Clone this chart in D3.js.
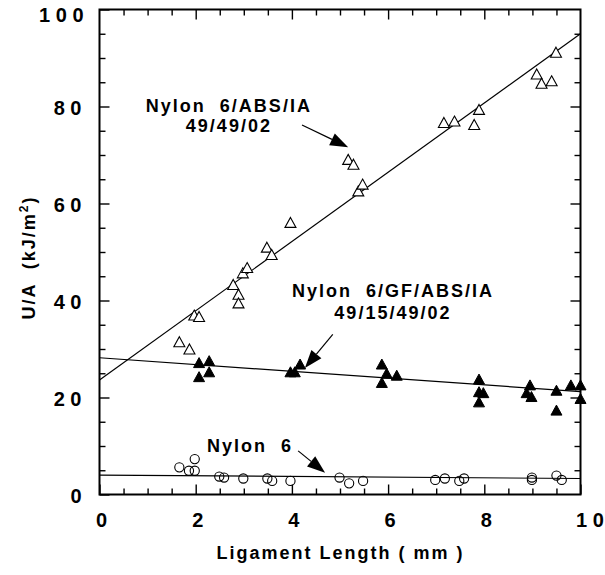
<!DOCTYPE html>
<html>
<head>
<meta charset="utf-8">
<script src="https://cdn.jsdelivr.net/npm/d3@7"></script>
<style>
  body { margin: 0; background: #fff; }
  text { font-family: "Liberation Sans", Arial, Helvetica, sans-serif; font-weight: bold; fill: #000; white-space: pre; }
</style>
</head>
<body>
<svg id="chart" width="605" height="575"></svg>
<script>
// Nylon 6/ABS/IA 49/49/02 (open triangles)
const absX = [1.66, 1.87, 1.97, 2.07, 2.78, 2.89, 2.89, 2.98, 3.07, 3.48, 3.58, 3.97, 5.17, 5.28, 5.38, 5.47, 7.16, 7.38, 7.79, 7.89, 9.09, 9.19, 9.40, 9.49];
const absY = [31.5, 30.0, 37.0, 36.7, 43.3, 41.3, 39.5, 45.7, 46.8, 51.0, 49.5, 56.1, 69.1, 68.1, 62.6, 64.0, 76.7, 77.0, 76.3, 79.4, 86.7, 84.8, 85.3, 91.2];

// Nylon 6/GF/ABS/IA 49/15/49/02 (filled triangles)
const gfX = [2.07, 2.28, 2.07, 2.28, 3.97, 4.06, 4.17, 5.87, 5.97, 5.87, 6.18, 7.89, 7.89, 7.98, 7.89, 8.95, 8.88, 8.98, 9.50, 9.50, 9.80, 10.0, 10.0];
const gfY = [27.2, 27.6, 24.3, 25.3, 25.3, 25.3, 26.9, 26.9, 25.0, 23.1, 24.6, 23.8, 21.2, 21.0, 19.1, 22.6, 21.0, 20.2, 21.5, 17.4, 22.6, 22.6, 19.8];

// Nylon 6 (open circles)
const ny6X = [1.66, 1.86, 1.98, 1.98, 2.49, 2.59, 2.99, 3.49, 3.59, 3.97, 4.99, 5.19, 5.48, 6.98, 7.18, 7.48, 7.58, 8.99, 8.99, 9.50, 9.61];
const ny6Y = [5.6, 4.9, 7.3, 4.9, 3.7, 3.5, 3.3, 3.3, 2.8, 2.8, 3.5, 2.3, 2.8, 3.0, 3.3, 2.8, 3.3, 3.5, 3.0, 3.9, 3.0];

// Linear fits, evaluated at both ends of the ligament range
const fitX = [0, 10];
const absFit = [23.6, 95.0];
const gfFit = [28.2, 21.2];
const ny6Fit = [4.0, 3.3];

// Axis ticks
const xMajor = [0, 2, 4, 6, 8, 10];
const xMinor = d3.range(0, 10.001, 0.5).filter(v => v % 2 !== 0);
const yMajor = [0, 20, 40, 60, 80, 100];
const yMinor = d3.range(0, 100.001, 5).filter(v => v % 20 !== 0);

// Series labels with their arrows (data units)
const labelLines = [
  { x: 2.69, y: 78.9, text: "Nylon  6/ABS/IA" },
  { x: 2.69, y: 74.8, text: "49/49/02" },
  { x: 6.10, y: 40.8, text: "Nylon  6/GF/ABS/IA" },
  { x: 6.10, y: 36.1, text: "49/15/49/02" },
  { x: 3.13, y: 8.7,  text: "Nylon  6" }
];
const arrows = [
  { x1: 4.21, y1: 76.2, x2: 5.17, y2: 71.6 },
  { x1: 4.85, y1: 33.0, x2: 4.27, y2: 26.1 },
  { x1: 4.13, y1: 9.0,  x2: 4.69, y2: 4.5 }
];

const svg = d3.select("#chart");
const x = d3.scaleLinear().domain([0, 10]).range([99.5, 580.5]);
const y = d3.scaleLinear().domain([0, 100]).range([494.5, 9.5]);

// ---- axes (ticks point inward on all four sides) ----
function styleAxis(g) {
  g.select(".domain").remove();
  g.selectAll(".tick line").attr("stroke", "#000").attr("stroke-width", 1.4);
}
// digits are set apart, e.g. "8 0"
const spaced = d => String(d).split("").join(" ");

svg.append("g").attr("transform", `translate(0,${y(0)})`)
  .call(d3.axisBottom(x).tickValues(xMinor).tickSize(-6).tickFormat(""))
  .call(styleAxis);
const xAx = svg.append("g").attr("transform", `translate(0,${y(0)})`)
  .call(d3.axisBottom(x).tickValues(xMajor).tickSize(-10).tickPadding(18).tickFormat(spaced))
  .call(styleAxis);
xAx.selectAll(".tick text")
  .attr("font-size", 20)
  .attr("font-family", null)
  .attr("dx", d => d === 10 ? 9 : 1.5);

svg.append("g").attr("transform", `translate(0,${y(100)})`)
  .call(d3.axisTop(x).tickValues(xMinor).tickSize(-6).tickFormat(""))
  .call(styleAxis);
svg.append("g").attr("transform", `translate(0,${y(100)})`)
  .call(d3.axisTop(x).tickValues(xMajor.slice(1, -1)).tickSize(-10).tickFormat(""))
  .call(styleAxis);

svg.append("g").attr("transform", `translate(${x(0)},0)`)
  .call(d3.axisLeft(y).tickValues(yMinor).tickSize(-6).tickFormat(""))
  .call(styleAxis);
const yAx = svg.append("g").attr("transform", `translate(${x(0)},0)`)
  .call(d3.axisLeft(y).tickValues(yMajor).tickSize(-10).tickPadding(18).tickFormat(spaced))
  .call(styleAxis);
yAx.selectAll(".tick text")
  .attr("font-size", 20)
  .attr("font-family", null)
  .attr("dx", d => d === 100 ? 2 : 0)
  .attr("dy", d => d === 100 ? "0.62em" : "0.4em");

svg.append("g").attr("transform", `translate(${x(10)},0)`)
  .call(d3.axisRight(y).tickValues(yMinor).tickSize(-6).tickFormat(""))
  .call(styleAxis);
svg.append("g").attr("transform", `translate(${x(10)},0)`)
  .call(d3.axisRight(y).tickValues(yMajor.slice(1, -1)).tickSize(-10).tickFormat(""))
  .call(styleAxis);

// plot frame
svg.append("rect")
  .attr("x", x(0)).attr("y", y(100))
  .attr("width", x(10) - x(0)).attr("height", y(0) - y(100))
  .attr("fill", "none").attr("stroke", "#000").attr("stroke-width", 2);

// ---- fit lines ----
const line = d3.line().x(d => x(d[0])).y(d => y(d[1]));
[absFit, gfFit, ny6Fit].forEach(f => {
  svg.append("path")
    .datum(fitX.map((v, i) => [v, f[i]]))
    .attr("d", line)
    .attr("fill", "none").attr("stroke", "#000").attr("stroke-width", 1.2);
});

// ---- markers ----
const tri = (w, h) => `M0,${-h / 2}L${w / 2},${h / 2}L${-w / 2},${h / 2}Z`;

svg.append("g").selectAll("path")
  .data(absX.map((v, i) => [v, absY[i]]))
  .join("path")
  .attr("d", tri(11, 10))
  .attr("transform", d => `translate(${x(d[0])},${y(d[1])})`)
  .attr("fill", "#fff").attr("stroke", "#000").attr("stroke-width", 1.1);

svg.append("g").selectAll("path")
  .data(gfX.map((v, i) => [v, gfY[i]]))
  .join("path")
  .attr("d", tri(11, 10))
  .attr("transform", d => `translate(${x(d[0])},${y(d[1])})`)
  .attr("fill", "#000").attr("stroke", "#000").attr("stroke-width", 1);

svg.append("g").selectAll("circle")
  .data(ny6X.map((v, i) => [v, ny6Y[i]]))
  .join("circle")
  .attr("cx", d => x(d[0])).attr("cy", d => y(d[1])).attr("r", 4.6)
  .attr("fill", "none").attr("stroke", "#000").attr("stroke-width", 1.1);

// ---- series labels and arrows ----
svg.append("g").selectAll("text")
  .data(labelLines)
  .join("text")
  .attr("x", d => x(d.x)).attr("y", d => y(d.y))
  .attr("text-anchor", "middle")
  .attr("font-size", 18).attr("letter-spacing", "2px")
  .text(d => d.text);

arrows.forEach(a => {
  const x1 = x(a.x1), y1 = y(a.y1), x2 = x(a.x2), y2 = y(a.y2);
  const ang = Math.atan2(y2 - y1, x2 - x1);
  const len = 18, hw = 6.5;
  const bx = x2 - len * Math.cos(ang), by = y2 - len * Math.sin(ang);
  svg.append("line")
    .attr("x1", x1).attr("y1", y1).attr("x2", bx).attr("y2", by)
    .attr("stroke", "#000").attr("stroke-width", 1.2);
  const px = -Math.sin(ang) * hw, py = Math.cos(ang) * hw;
  svg.append("path")
    .attr("d", `M${x2},${y2}L${bx + px},${by + py}L${bx - px},${by - py}Z`)
    .attr("fill", "#000");
});

// ---- axis titles ----
svg.append("text")
  .attr("x", 340.5).attr("y", 559)
  .attr("text-anchor", "middle")
  .attr("font-size", 18).attr("letter-spacing", "2px")
  .text("Ligament Length ( mm )");

const yt = svg.append("text")
  .attr("transform", "translate(34.5,257.5) rotate(-90)")
  .attr("text-anchor", "middle")
  .attr("font-size", 18).attr("letter-spacing", "2px");
yt.append("tspan").text("U/A  (kJ/m");
yt.append("tspan").attr("font-size", 12).attr("dy", -7).text("2");
yt.append("tspan").attr("dy", 7).text(")");
</script>
</body>
</html>
